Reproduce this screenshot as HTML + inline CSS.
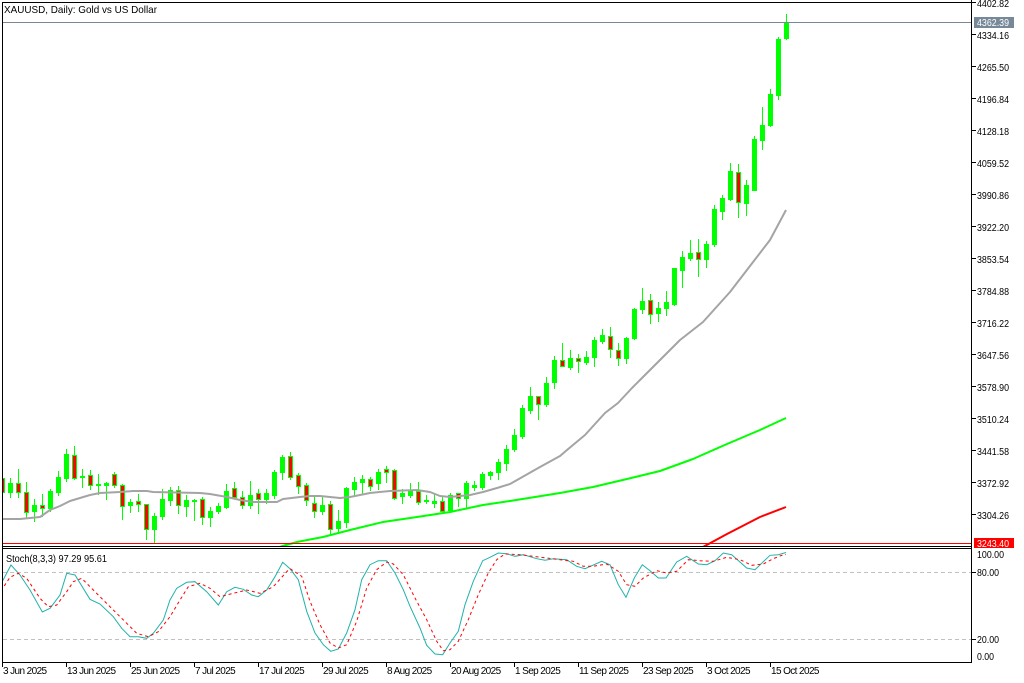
<!DOCTYPE html>
<html><head><meta charset="utf-8"><style>
html,body{margin:0;padding:0;background:#fff;}
svg{display:block}
text{font-family:"Liberation Sans",Arial,sans-serif;fill:#000;}
</style></head><body>
<svg xmlns="http://www.w3.org/2000/svg" width="1024" height="683" viewBox="0 0 1024 683">
<defs>
<clipPath id="cm"><rect x="3" y="3" width="968" height="543"/></clipPath>
<clipPath id="cs"><rect x="3" y="549" width="968" height="113"/></clipPath>
</defs>
<rect x="0" y="0" width="1024" height="683" fill="#fff"/>

<g clip-path="url(#cm)" shape-rendering="crispEdges">
<g fill="#00ff00">
<rect x="2" y="476" width="1" height="19"/><rect x="0" y="478" width="5" height="15"/>
<rect x="10" y="478" width="1" height="20"/><rect x="8" y="483" width="5" height="10"/>
<rect x="18" y="469" width="1" height="29"/><rect x="16" y="483" width="5" height="10"/>
<rect x="26" y="482" width="1" height="36"/><rect x="24" y="492" width="5" height="21"/>
<rect x="34" y="499" width="1" height="23"/><rect x="32" y="505" width="5" height="7"/>
<rect x="42" y="494" width="1" height="23"/><rect x="40" y="505" width="5" height="4"/>
<rect x="50" y="489" width="1" height="23"/><rect x="48" y="491" width="5" height="18"/>
<rect x="58" y="471" width="1" height="25"/><rect x="56" y="477" width="5" height="16"/>
<rect x="66" y="449" width="1" height="33"/><rect x="64" y="454" width="5" height="25"/>
<rect x="74" y="446" width="1" height="34"/><rect x="72" y="455" width="5" height="24"/>
<rect x="82" y="469" width="1" height="19"/><rect x="80" y="476" width="5" height="2"/>
<rect x="90" y="470" width="1" height="20"/><rect x="88" y="475" width="5" height="11"/>
<rect x="98" y="474" width="1" height="21"/><rect x="96" y="484" width="5" height="2"/>
<rect x="106" y="482" width="1" height="18"/><rect x="104" y="483" width="5" height="3"/>
<rect x="114" y="472" width="1" height="16"/><rect x="112" y="474" width="5" height="12"/>
<rect x="122" y="484" width="1" height="36"/><rect x="120" y="485" width="5" height="22"/>
<rect x="130" y="499" width="1" height="14"/><rect x="128" y="502" width="5" height="4"/>
<rect x="138" y="494" width="1" height="18"/><rect x="136" y="501" width="5" height="4"/>
<rect x="146" y="504" width="1" height="36"/><rect x="144" y="504" width="5" height="26"/>
<rect x="154" y="513" width="1" height="30"/><rect x="152" y="516" width="5" height="14"/>
<rect x="162" y="489" width="1" height="31"/><rect x="160" y="499" width="5" height="18"/>
<rect x="170" y="487" width="1" height="19"/><rect x="168" y="490" width="5" height="11"/>
<rect x="178" y="486" width="1" height="28"/><rect x="176" y="490" width="5" height="16"/>
<rect x="186" y="495" width="1" height="22"/><rect x="184" y="500" width="5" height="7"/>
<rect x="194" y="499" width="1" height="22"/><rect x="192" y="500" width="5" height="2"/>
<rect x="202" y="497" width="1" height="28"/><rect x="200" y="499" width="5" height="19"/>
<rect x="210" y="507" width="1" height="20"/><rect x="208" y="511" width="5" height="7"/>
<rect x="218" y="503" width="1" height="11"/><rect x="216" y="506" width="5" height="6"/>
<rect x="226" y="484" width="1" height="25"/><rect x="224" y="491" width="5" height="17"/>
<rect x="234" y="482" width="1" height="17"/><rect x="232" y="488" width="5" height="10"/>
<rect x="242" y="491" width="1" height="18"/><rect x="240" y="497" width="5" height="9"/>
<rect x="250" y="481" width="1" height="28"/><rect x="248" y="495" width="5" height="11"/>
<rect x="258" y="489" width="1" height="25"/><rect x="256" y="493" width="5" height="7"/>
<rect x="266" y="489" width="1" height="15"/><rect x="264" y="493" width="5" height="7"/>
<rect x="274" y="470" width="1" height="29"/><rect x="272" y="472" width="5" height="24"/>
<rect x="282" y="455" width="1" height="25"/><rect x="280" y="457" width="5" height="16"/>
<rect x="290" y="452" width="1" height="28"/><rect x="288" y="456" width="5" height="22"/>
<rect x="298" y="473" width="1" height="21"/><rect x="296" y="475" width="5" height="12"/>
<rect x="306" y="483" width="1" height="23"/><rect x="304" y="485" width="5" height="16"/>
<rect x="314" y="497" width="1" height="21"/><rect x="312" y="503" width="5" height="9"/>
<rect x="322" y="497" width="1" height="18"/><rect x="320" y="505" width="5" height="7"/>
<rect x="330" y="501" width="1" height="34"/><rect x="328" y="504" width="5" height="26"/>
<rect x="338" y="510" width="1" height="22"/><rect x="336" y="521" width="5" height="8"/>
<rect x="346" y="487" width="1" height="41"/><rect x="344" y="488" width="5" height="35"/>
<rect x="354" y="477" width="1" height="20"/><rect x="352" y="482" width="5" height="8"/>
<rect x="362" y="475" width="1" height="19"/><rect x="360" y="479" width="5" height="4"/>
<rect x="370" y="477" width="1" height="14"/><rect x="368" y="479" width="5" height="8"/>
<rect x="378" y="469" width="1" height="21"/><rect x="376" y="472" width="5" height="12"/>
<rect x="386" y="466" width="1" height="17"/><rect x="384" y="469" width="5" height="4"/>
<rect x="394" y="469" width="1" height="31"/><rect x="392" y="470" width="5" height="29"/>
<rect x="402" y="489" width="1" height="15"/><rect x="400" y="493" width="5" height="4"/>
<rect x="410" y="483" width="1" height="15"/><rect x="408" y="491" width="5" height="5"/>
<rect x="418" y="482" width="1" height="23"/><rect x="416" y="491" width="5" height="12"/>
<rect x="426" y="495" width="1" height="9"/><rect x="424" y="500" width="5" height="2"/>
<rect x="434" y="493" width="1" height="15"/><rect x="432" y="501" width="5" height="3"/>
<rect x="442" y="497" width="1" height="15"/><rect x="440" y="501" width="5" height="11"/>
<rect x="450" y="493" width="1" height="20"/><rect x="448" y="495" width="5" height="16"/>
<rect x="458" y="493" width="1" height="14"/><rect x="456" y="493" width="5" height="6"/>
<rect x="466" y="481" width="1" height="28"/><rect x="464" y="483" width="5" height="16"/>
<rect x="474" y="481" width="1" height="10"/><rect x="472" y="485" width="5" height="3"/>
<rect x="482" y="472" width="1" height="18"/><rect x="480" y="474" width="5" height="14"/>
<rect x="490" y="471" width="1" height="9"/><rect x="488" y="472" width="5" height="4"/>
<rect x="498" y="459" width="1" height="21"/><rect x="496" y="462" width="5" height="11"/>
<rect x="506" y="445" width="1" height="26"/><rect x="504" y="449" width="5" height="15"/>
<rect x="514" y="429" width="1" height="23"/><rect x="512" y="435" width="5" height="15"/>
<rect x="522" y="405" width="1" height="34"/><rect x="520" y="408" width="5" height="29"/>
<rect x="530" y="387" width="1" height="27"/><rect x="528" y="396" width="5" height="15"/>
<rect x="538" y="396" width="1" height="24"/><rect x="536" y="396" width="5" height="9"/>
<rect x="546" y="377" width="1" height="30"/><rect x="544" y="383" width="5" height="22"/>
<rect x="554" y="356" width="1" height="33"/><rect x="552" y="360" width="5" height="23"/>
<rect x="562" y="343" width="1" height="24"/><rect x="560" y="360" width="5" height="7"/>
<rect x="570" y="350" width="1" height="20"/><rect x="568" y="358" width="5" height="10"/>
<rect x="578" y="354" width="1" height="19"/><rect x="576" y="358" width="5" height="4"/>
<rect x="586" y="351" width="1" height="14"/><rect x="584" y="357" width="5" height="6"/>
<rect x="594" y="337" width="1" height="30"/><rect x="592" y="340" width="5" height="18"/>
<rect x="602" y="329" width="1" height="15"/><rect x="600" y="335" width="5" height="7"/>
<rect x="610" y="327" width="1" height="31"/><rect x="608" y="336" width="5" height="14"/>
<rect x="618" y="343" width="1" height="23"/><rect x="616" y="350" width="5" height="9"/>
<rect x="626" y="337" width="1" height="27"/><rect x="624" y="338" width="5" height="21"/>
<rect x="634" y="308" width="1" height="32"/><rect x="632" y="309" width="5" height="30"/>
<rect x="642" y="288" width="1" height="26"/><rect x="640" y="301" width="5" height="9"/>
<rect x="650" y="294" width="1" height="30"/><rect x="648" y="300" width="5" height="15"/>
<rect x="658" y="302" width="1" height="20"/><rect x="656" y="308" width="5" height="6"/>
<rect x="666" y="291" width="1" height="25"/><rect x="664" y="302" width="5" height="7"/>
<rect x="674" y="268" width="1" height="38"/><rect x="672" y="268" width="5" height="37"/>
<rect x="682" y="251" width="1" height="37"/><rect x="680" y="257" width="5" height="14"/>
<rect x="690" y="240" width="1" height="21"/><rect x="688" y="253" width="5" height="6"/>
<rect x="698" y="239" width="1" height="38"/><rect x="696" y="252" width="5" height="8"/>
<rect x="706" y="241" width="1" height="27"/><rect x="704" y="244" width="5" height="16"/>
<rect x="714" y="205" width="1" height="42"/><rect x="712" y="209" width="5" height="36"/>
<rect x="722" y="195" width="1" height="25"/><rect x="720" y="198" width="5" height="14"/>
<rect x="730" y="163" width="1" height="38"/><rect x="728" y="171" width="5" height="29"/>
<rect x="738" y="164" width="1" height="54"/><rect x="736" y="172" width="5" height="31"/>
<rect x="746" y="180" width="1" height="36"/><rect x="744" y="185" width="5" height="19"/>
<rect x="754" y="136" width="1" height="55"/><rect x="752" y="139" width="5" height="52"/>
<rect x="762" y="107" width="1" height="43"/><rect x="760" y="125" width="5" height="16"/>
<rect x="770" y="89" width="1" height="38"/><rect x="768" y="94" width="5" height="32"/>
<rect x="778" y="37" width="1" height="63"/><rect x="776" y="39" width="5" height="57"/>
<rect x="786" y="14" width="1" height="26"/><rect x="784" y="22" width="5" height="17"/>
</g>
<g fill="#ff0000">
<rect x="1" y="479" width="3" height="13"/>
<rect x="17" y="484" width="3" height="8"/>
<rect x="25" y="493" width="3" height="19"/>
<rect x="41" y="506" width="3" height="2"/>
<rect x="73" y="456" width="3" height="22"/>
<rect x="89" y="476" width="3" height="9"/>
<rect x="113" y="475" width="3" height="10"/>
<rect x="121" y="486" width="3" height="20"/>
<rect x="137" y="502" width="3" height="2"/>
<rect x="145" y="505" width="3" height="24"/>
<rect x="177" y="491" width="3" height="14"/>
<rect x="201" y="500" width="3" height="17"/>
<rect x="233" y="489" width="3" height="8"/>
<rect x="241" y="498" width="3" height="7"/>
<rect x="257" y="494" width="3" height="5"/>
<rect x="289" y="457" width="3" height="20"/>
<rect x="297" y="476" width="3" height="10"/>
<rect x="305" y="486" width="3" height="14"/>
<rect x="313" y="504" width="3" height="7"/>
<rect x="329" y="505" width="3" height="24"/>
<rect x="369" y="480" width="3" height="6"/>
<rect x="385" y="470" width="3" height="2"/>
<rect x="393" y="471" width="3" height="27"/>
<rect x="417" y="492" width="3" height="10"/>
<rect x="441" y="502" width="3" height="9"/>
<rect x="457" y="494" width="3" height="4"/>
<rect x="537" y="397" width="3" height="7"/>
<rect x="561" y="361" width="3" height="5"/>
<rect x="577" y="359" width="3" height="2"/>
<rect x="609" y="337" width="3" height="12"/>
<rect x="617" y="351" width="3" height="7"/>
<rect x="649" y="301" width="3" height="13"/>
<rect x="697" y="253" width="3" height="6"/>
<rect x="737" y="173" width="3" height="29"/>
</g>
</g>

<g clip-path="url(#cm)" fill="none" stroke-width="2" stroke-linejoin="round">
<polyline stroke="#a4a4a4" points="0,519 20,519 40,517 50,510 60,506 70,501 80,498 90,495 100,493 120,492 133,491 147,491 153,492 200,493 210,494 227,497 240,500 253,502 277,502 283,499 300,497 310,496 320,496 340,498 350,497 370,493 390,491 417,490 430,492 440,496 450,497 470,495 483,492 497,488 510,484 540,467 560,456 567,450 585,435 595,424 605,413 618,403 632,388 640,380 655,365 680,340 703,322 730,292 750,266 770,240 786,210"/>
<polyline stroke="#00ff00" points="270,550 286,545 297,542 323,537 350,530 383,522 417,517 450,512 483,505 510,501 560,493 593,487 627,479 660,471 693,459 727,444 760,430 786,418"/>
<polyline stroke="#ff0000" points="698,550 703,547 727,534 760,517 786,507"/>
</g>

<g shape-rendering="crispEdges">
<rect x="2" y="22" width="969" height="1" fill="#778899"/>
<rect x="2" y="543" width="969" height="1" fill="#ff0000"/>
<rect x="2" y="2" width="970" height="1" fill="#000"/>
<rect x="2" y="2" width="1" height="661" fill="#000"/>
<rect x="2" y="546" width="970" height="1" fill="#000"/>
<rect x="2" y="548" width="970" height="1" fill="#000"/>
<rect x="2" y="662" width="970" height="1" fill="#000"/>
<rect x="971" y="0" width="1" height="663" fill="#000"/>
<g fill="#000">
<rect x="971" y="2" width="5" height="1"/><rect x="971" y="34" width="5" height="1"/><rect x="971" y="66" width="5" height="1"/><rect x="971" y="98" width="5" height="1"/><rect x="971" y="130" width="5" height="1"/><rect x="971" y="162" width="5" height="1"/><rect x="971" y="194" width="5" height="1"/><rect x="971" y="226" width="5" height="1"/><rect x="971" y="258" width="5" height="1"/><rect x="971" y="290" width="5" height="1"/><rect x="971" y="322" width="5" height="1"/><rect x="971" y="354" width="5" height="1"/><rect x="971" y="386" width="5" height="1"/><rect x="971" y="418" width="5" height="1"/><rect x="971" y="450" width="5" height="1"/><rect x="971" y="482" width="5" height="1"/><rect x="971" y="514" width="5" height="1"/>
<rect x="971" y="572" width="5" height="1"/><rect x="971" y="639" width="5" height="1"/>
<rect x="2" y="662" width="1" height="5"/><rect x="66" y="662" width="1" height="5"/><rect x="130" y="662" width="1" height="5"/><rect x="194" y="662" width="1" height="5"/><rect x="258" y="662" width="1" height="5"/><rect x="322" y="662" width="1" height="5"/><rect x="386" y="662" width="1" height="5"/><rect x="450" y="662" width="1" height="5"/><rect x="514" y="662" width="1" height="5"/><rect x="578" y="662" width="1" height="5"/><rect x="642" y="662" width="1" height="5"/><rect x="706" y="662" width="1" height="5"/><rect x="770" y="662" width="1" height="5"/>
</g>
<rect x="974" y="17" width="40" height="11" fill="#778899"/>
<rect x="974" y="538" width="40" height="10" fill="#ff0000"/>
</g>

<g clip-path="url(#cs)">
<line x1="3" y1="572.5" x2="971" y2="572.5" stroke="#c0c0c0" stroke-width="1" stroke-dasharray="4,3"/>
<line x1="3" y1="639.5" x2="971" y2="639.5" stroke="#c0c0c0" stroke-width="1" stroke-dasharray="4,3"/>
<polyline fill="none" stroke="#20b2aa" stroke-width="1" points="0,584 2.7,580.7 11,565 20,575 30,590 42.3,612 50,608.3 60,595 66.7,573.3 75,575 90,599.3 100,604 113.3,616.7 121.7,628.3 130,636.7 138.3,636.7 146.7,638.3 153.3,633.3 163.3,620 170,600 176.7,588.3 186.7,582.3 195,581.7 206.7,591.7 218.3,605 226.7,591.7 235,587.3 243.3,589.3 251.7,595 258.3,596.7 266.7,590 275,576.7 282.7,562.3 290,568.7 298.3,579.7 306.7,611.3 315,633 323.3,644.7 330.7,651.3 338.3,649 346.7,633 355,609.7 361.7,579.7 370,564.7 378.3,560.7 386.7,560.7 395,573 403.3,589.7 410,606.3 420,628 426.7,645.3 435,654 442.7,654.7 450,643 458.3,631.3 465,604.7 473.3,581.3 482.7,560.7 490,557.3 498.3,553 506.7,553.7 515,556.3 523.3,554.7 536.7,558.7 545,560.3 553.3,558.7 566.7,559.7 576.7,566.3 585,568.7 601.7,561.3 610,564.7 618.3,584.7 626,597.3 634.3,578 642.3,564.7 650,570.7 658.3,578 666,578 676.7,562 686.7,556.3 698.3,564 706.7,564.7 715,560.7 723.3,553 731.7,554.7 746.7,568 755,569.7 770,555.3 778.3,554.7 786,552.5"/>
<polyline fill="none" stroke="#ff0000" stroke-width="1" stroke-dasharray="3,3" points="0,590 2.7,588.3 10,577.3 18.3,573.3 26.7,578.3 40,598.3 48.3,606.7 56.7,605 66.7,591.7 73.3,581.7 81.7,578.3 90,586.7 100,596.7 113.3,610 126.7,623.3 136.7,633.3 148.3,636.7 158.3,631.7 170,616.7 180,600 188.3,586.7 200,583.3 210,588.3 220,596.7 233.3,593.3 246.7,590 260,593.3 273.3,586.7 286.7,571.7 290,568.7 301.7,576.3 310,601.3 320,624.7 330,643 338.3,648 346.7,644.7 356.7,621.3 366.7,588 376.7,569.7 386.7,562 393.3,564 403.3,574.7 415,598 426.7,619.7 436.7,641.3 443.3,650.7 450,649.7 458.3,641.3 468.3,619.7 478.3,594.7 488.3,573 496.7,559.7 505,554 520,554.7 533.3,556.3 546.7,558 560,559.7 573.3,561.3 583.3,566.3 593.3,566.3 606.7,564 618.3,571.3 626.7,584.7 635,586.3 643.3,578 656.7,570.7 666.7,573 676.7,571.3 688.3,559.7 700,560.7 713.3,561.3 726.7,557.3 740,559.7 751.7,565.3 763.3,564 773.3,558.7 783.3,554.7 786,554.5"/>
</g>

<text x="4" y="13" font-size="10.5" textLength="153" lengthAdjust="spacingAndGlyphs">XAUUSD, Daily:  Gold vs US Dollar</text>
<text x="6" y="562" font-size="10" textLength="101" lengthAdjust="spacingAndGlyphs">Stoch(8,3,3) 97.29 95.61</text>

<g font-size="10">
<text x="977" y="7" textLength="32" lengthAdjust="spacingAndGlyphs">4402.82</text>
<text x="977" y="39" textLength="32" lengthAdjust="spacingAndGlyphs">4334.16</text>
<text x="977" y="71" textLength="32" lengthAdjust="spacingAndGlyphs">4265.50</text>
<text x="977" y="103" textLength="32" lengthAdjust="spacingAndGlyphs">4196.84</text>
<text x="977" y="135" textLength="32" lengthAdjust="spacingAndGlyphs">4128.18</text>
<text x="977" y="167" textLength="32" lengthAdjust="spacingAndGlyphs">4059.52</text>
<text x="977" y="199" textLength="32" lengthAdjust="spacingAndGlyphs">3990.86</text>
<text x="977" y="231" textLength="32" lengthAdjust="spacingAndGlyphs">3922.20</text>
<text x="977" y="263" textLength="32" lengthAdjust="spacingAndGlyphs">3853.54</text>
<text x="977" y="295" textLength="32" lengthAdjust="spacingAndGlyphs">3784.88</text>
<text x="977" y="327" textLength="32" lengthAdjust="spacingAndGlyphs">3716.22</text>
<text x="977" y="359" textLength="32" lengthAdjust="spacingAndGlyphs">3647.56</text>
<text x="977" y="391" textLength="32" lengthAdjust="spacingAndGlyphs">3578.90</text>
<text x="977" y="423" textLength="32" lengthAdjust="spacingAndGlyphs">3510.24</text>
<text x="977" y="455" textLength="32" lengthAdjust="spacingAndGlyphs">3441.58</text>
<text x="977" y="487" textLength="32" lengthAdjust="spacingAndGlyphs">3372.92</text>
<text x="977" y="519" textLength="32" lengthAdjust="spacingAndGlyphs">3304.26</text>
<text x="977" y="26" textLength="32" lengthAdjust="spacingAndGlyphs" style="fill:#fff">4362.39</text>
<text x="977" y="547" textLength="32" lengthAdjust="spacingAndGlyphs" style="fill:#fff">3243.40</text>
<text x="977" y="558" textLength="27" lengthAdjust="spacingAndGlyphs">100.00</text>
<text x="977" y="576" textLength="22" lengthAdjust="spacingAndGlyphs">80.00</text>
<text x="977" y="643" textLength="22" lengthAdjust="spacingAndGlyphs">20.00</text>
<text x="977" y="660" textLength="17" lengthAdjust="spacingAndGlyphs">0.00</text>
</g>

<g font-size="10" letter-spacing="-0.6">
<text x="3" y="674">3 Jun 2025</text>
<text x="67" y="674">13 Jun 2025</text>
<text x="131" y="674">25 Jun 2025</text>
<text x="195" y="674">7 Jul 2025</text>
<text x="259" y="674">17 Jul 2025</text>
<text x="323" y="674">29 Jul 2025</text>
<text x="387" y="674">8 Aug 2025</text>
<text x="451" y="674">20 Aug 2025</text>
<text x="515" y="674">1 Sep 2025</text>
<text x="579" y="674">11 Sep 2025</text>
<text x="643" y="674">23 Sep 2025</text>
<text x="707" y="674">3 Oct 2025</text>
<text x="771" y="674">15 Oct 2025</text>
</g>
</svg>
</body></html>
